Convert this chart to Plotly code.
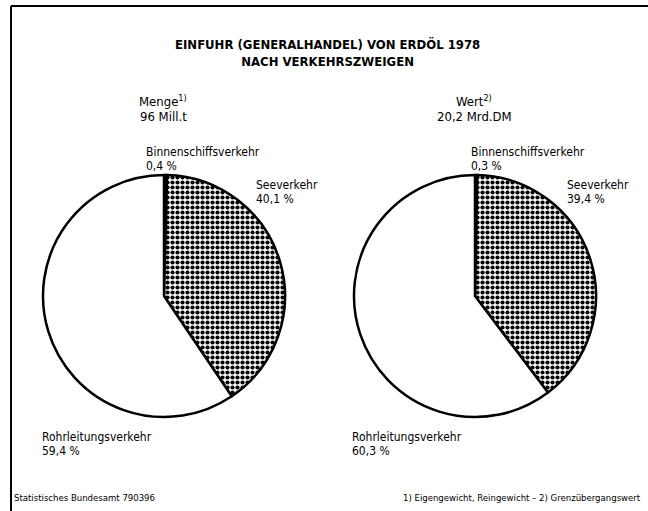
import plotly.graph_objects as go

W, H = 648, 511

categories = ["Binnenschiffsverkehr", "Seeverkehr", "Rohrleitungsverkehr"]
menge_values = [0.4, 40.1, 59.4]
wert_values = [0.3, 39.4, 60.3]
menge_labels = ["0,4 %", "40,1 %", "59,4 %"]
wert_labels = ["0,3 %", "39,4 %", "60,3 %"]

title_lines = ["EINFUHR (GENERALHANDEL) VON ERDÖL 1978", "NACH VERKEHRSZWEIGEN"]
header_menge = ["Menge<sup>1)</sup>", "96 Mill.t"]
header_wert = ["Wert<sup>2)</sup>", "20,2 Mrd.DM"]
source_text = "Statistisches Bundesamt 790396"
footnote_text = "1) Eigengewicht, Reingewicht – 2) Grenzübergangswert"

FONT = "DejaVu Sans Condensed, Liberation Sans Narrow, sans-serif"


def px_x(x):
    return x / W


def px_y(y):
    return 1 - y / H


def pie(values, cx, cy, r):
    return go.Pie(
        labels=categories,
        values=values,
        sort=False,
        direction="clockwise",
        rotation=0,
        textinfo="none",
        textposition="none",
        hoverinfo="label+percent",
        showlegend=False,
        domain=dict(x=[px_x(cx - r), px_x(cx + r)], y=[px_y(cy + r), px_y(cy - r)]),
        marker=dict(
            colors=["black", "white", "white"],
            line=dict(color="black", width=2.5),
            pattern=dict(
                shape=["", ".", ""],
                fgcolor="black",
                bgcolor="white",
                size=5,
                solidity=0.55,
            ),
        ),
    )


fig = go.Figure()
fig.add_trace(pie(menge_values, 164, 296, 121))
fig.add_trace(pie(wert_values, 475, 296, 121))

ann = []


def text(x, y, s, size=12, anchor="left", bold=False):
    if bold:
        s = "<b>" + s + "</b>"
    ann.append(dict(
        x=px_x(x), y=px_y(y), xref="paper", yref="paper", text=s,
        showarrow=False, xanchor=anchor, yanchor="middle",
        font=dict(family=FONT, size=size, color="black"),
    ))


# title
text(327, 53, title_lines[0] + "<br>" + title_lines[1], size=13, anchor="center", bold=True)

# headers
text(163, 101, header_menge[0], size=13, anchor="center")
text(163, 117, header_menge[1], size=13, anchor="center")
text(474, 101, header_wert[0], size=13, anchor="center")
text(474, 117, header_wert[1], size=13, anchor="center")

# slice labels: left pie
text(144, 152, categories[0])
text(144, 166, menge_labels[0])
text(254, 185, categories[1])
text(254, 199, menge_labels[1])
text(40, 437, categories[2])
text(40, 451, menge_labels[2])

# slice labels: right pie
text(469, 152, categories[0])
text(469, 166, wert_labels[0])
text(565, 185, categories[1])
text(565, 199, wert_labels[1])
text(350, 437, categories[2])
text(350, 451, wert_labels[2])

# footer
text(12, 497, source_text, size=9.5)
text(643, 497, footnote_text, size=9.5, anchor="right")

shapes = [
    dict(type="line", xref="paper", yref="paper", x0=px_x(11), y0=px_y(6), x1=px_x(648), y1=px_y(6),
         line=dict(color="black", width=2)),
    dict(type="line", xref="paper", yref="paper", x0=px_x(11), y0=px_y(6), x1=px_x(11), y1=px_y(511),
         line=dict(color="black", width=2)),
]

fig.update_layout(
    width=W, height=H,
    margin=dict(l=0, r=0, t=0, b=0),
    paper_bgcolor="white",
    plot_bgcolor="white",
    annotations=ann,
    shapes=shapes,
)

fig.write_html(
    "out.html",
    config={"displayModeBar": False},
    post_script="document.body.style.margin='0';document.body.style.overflow='hidden';",
)
